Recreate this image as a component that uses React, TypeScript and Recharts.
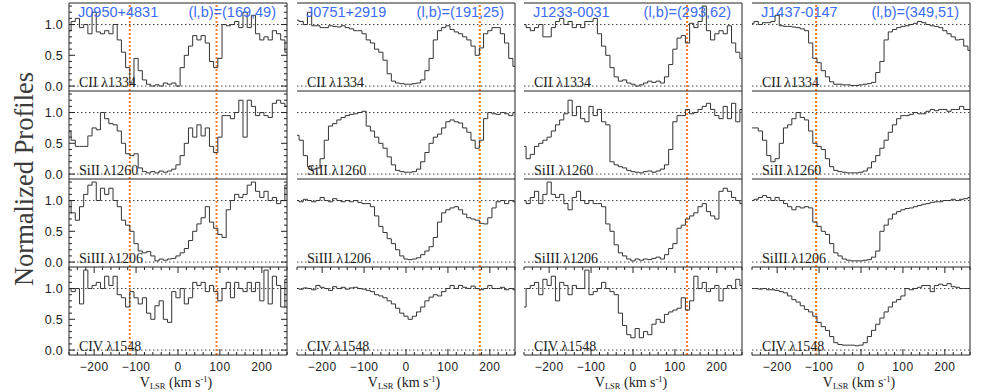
import { LineChart, Line, XAxis, YAxis, ReferenceLine } from 'recharts';

// velocity bins (km/s)
const velocity = [
  -260, -250, -240, -230, -220, -210, -200, -190, -180, -170, -160, -150, -140, -130, -120, -110, -100, -90, -80, -70,
  -60, -50, -40, -30, -20, -10, 0, 10, 20, 30, 40, 50, 60, 70, 80, 90, 100, 110, 120, 130, 140, 150, 160, 170, 180,
  190, 200, 210, 220, 230, 240, 250, 260,
];

const sightlines = ['J0950+4831', 'J0751+2919', 'J1233-0031', 'J1437-0147'];
const galactic = ['(l,b)=(169,49)', '(l,b)=(191,25)', '(l,b)=(293,62)', '(l,b)=(349,51)'];
const ions = ['CII λ1334', 'SiII λ1260', 'SiIII λ1206', 'CIV λ1548'];
const markers = [[-115, 92], [176], [129], [-107]];

const xMajor = [-200, -100, 0, 100, 200];
const xTicks = [-260, -240, -220, -200, -180, -160, -140, -120, -100, -80, -60, -40, -20, 0, 20, 40, 60, 80, 100, 120, 140, 160, 180, 200, 220, 240, 260];
const yMajor = [0, 0.5, 1];
const yTicks = [0, 0.1, 0.2, 0.3, 0.4, 0.5, 0.6, 0.7, 0.8, 0.9, 1, 1.1, 1.2, 1.3];

// J0950+4831
const j0950CII = [0.9, 1.05, 1.1, 0.95, 1.0, 0.85, 1.2, 0.88, 0.85, 0.9, 0.85, 1.0, 0.75, 0.55, 0.3, 0.05, 0.45, 0.25, 0.1, 0.03, 0.0, 0.02, 0.0, 0.05, 0.03, 0.05, 0.0, 0.3, 0.5, 0.65, 0.82, 0.75, 0.82, 0.7, 0.4, 0.3, 0.45, 1.0, 0.98, 1.0, 1.05, 0.95, 1.2, 0.95, 1.15, 0.85, 0.75, 0.8, 0.75, 0.9, 0.85, 0.75, 0.55];
const j0950SiII = [0.69, 0.55, 0.45, 0.45, 0.45, 0.62, 0.75, 0.72, 1.0, 0.9, 0.82, 0.8, 0.7, 0.5, 0.33, 0.3, 0.33, 0.1, 0.04, 0.02, 0.04, 0.02, 0.05, 0.03, 0.05, 0.08, 0.15, 0.3, 0.5, 0.75, 0.6, 0.8, 0.62, 0.75, 0.45, 0.35, 0.6, 0.95, 0.95, 0.9, 1.0, 1.2, 0.6, 1.2, 1.1, 0.95, 1.0, 0.95, 0.92, 1.15, 1.2, 1.15, 1.1];
const j0950SiIII = [1.0, 0.8, 0.68, 0.9, 1.1, 1.25, 1.3, 1.0, 1.2, 1.1, 1.2, 1.0, 0.9, 0.68, 0.6, 0.5, 0.3, 0.18, 0.15, 0.17, 0.1, 0.02, 0.05, 0.03, 0.05, 0.06, 0.1, 0.15, 0.22, 0.35, 0.5, 0.62, 0.72, 0.9, 0.65, 0.55, 0.45, 0.4, 0.85, 1.0, 1.1, 1.05, 1.1, 1.25, 1.3, 1.15, 1.05, 1.15, 1.0, 1.05, 0.95, 1.0, 1.25];
const j0950CIV = [1.0, 0.95, 1.0, 0.75, 1.3, 1.0, 1.05, 1.1, 1.0, 1.2, 1.05, 1.2, 0.9, 0.85, 0.7, 0.95, 0.85, 0.75, 0.85, 0.6, 0.5, 0.72, 0.8, 0.5, 0.45, 0.95, 0.85, 1.0, 0.75, 0.85, 1.1, 1.05, 1.1, 0.95, 1.05, 0.95, 0.8, 1.0, 1.1, 0.85, 1.1, 1.0, 0.95, 1.1, 0.95, 1.1, 0.8, 1.3, 0.75, 1.2, 1.05, 0.7, 1.15];

// J0751+2919
const j0751CII = [1.07, 1.05, 1.0, 1.2, 0.98, 0.98, 0.95, 0.95, 0.98, 0.97, 0.96, 0.98, 0.95, 0.93, 0.9, 0.9, 0.85, 0.75, 0.7, 0.6, 0.55, 0.42, 0.2, 0.08, 0.05, 0.04, 0.03, 0.03, 0.04, 0.05, 0.1, 0.25, 0.45, 0.75, 0.9, 0.95, 0.98, 0.92, 0.88, 0.85, 0.8, 0.75, 0.65, 0.5, 0.62, 0.85, 0.9, 0.95, 0.95, 0.85, 0.7, 0.45, 0.32];
const j0751SiII = [0.63, 0.55, 0.3, 0.12, 0.08, 0.1, 0.25, 0.55, 0.78, 0.82, 0.88, 0.92, 0.95, 0.97, 0.98, 1.0, 1.02, 0.78, 0.7, 0.6, 0.5, 0.42, 0.28, 0.15, 0.06, 0.04, 0.03, 0.03, 0.04, 0.08, 0.2, 0.35, 0.5, 0.6, 0.65, 0.75, 0.85, 0.88, 0.85, 0.83, 0.75, 0.68, 0.55, 0.42, 0.55, 0.9, 1.0, 0.98, 0.97, 1.0, 0.98, 0.95, 1.0];
const j0751SiIII = [1.0, 0.98, 1.02, 1.0, 0.98, 1.0, 1.05, 1.0, 0.98, 1.03, 1.0, 0.98, 1.0, 0.98, 1.0, 0.97, 0.95, 0.95, 0.9, 0.75, 0.58, 0.48, 0.38, 0.3, 0.2, 0.1, 0.05, 0.04, 0.05, 0.07, 0.12, 0.18, 0.25, 0.4, 0.65, 0.8, 0.85, 0.88, 0.9, 0.85, 0.78, 0.72, 0.7, 0.68, 0.63, 0.62, 0.72, 0.88, 0.98, 1.0, 0.95, 1.0, 0.98];
const j0751CIV = [1.0, 0.99, 1.01, 1.0, 0.98, 1.05, 1.02, 1.0, 0.97, 1.03, 1.0, 1.02, 0.99, 1.01, 1.02, 1.0, 0.99, 0.97, 0.95, 0.9, 0.88, 0.85, 0.8, 0.75, 0.68, 0.6, 0.55, 0.5, 0.55, 0.62, 0.7, 0.8, 0.86, 0.9, 0.88, 0.95, 1.0, 1.05, 1.0, 1.05, 1.02, 1.0, 1.04, 1.0, 0.98, 1.0, 1.05, 1.0, 1.0, 1.02, 0.98, 1.0, 0.98];

// J1233-0031
const j1233CII = [1.0, 0.95, 0.9, 0.95, 1.0, 0.8, 0.8, 0.95, 1.05, 1.1, 1.0, 1.05, 0.95, 1.0, 0.95, 1.05, 1.05, 1.1, 0.85, 0.65, 0.5, 0.3, 0.15, 0.08, 0.1, 0.05, 0.03, 0.0, 0.02, 0.05, 0.08, 0.06, 0.08, 0.05, 0.15, 0.35, 0.6, 0.78, 0.82, 0.7, 1.02, 0.95, 1.05, 1.3, 0.9, 0.75, 0.85, 0.9, 0.85, 0.98, 0.7, 0.55, 0.45];
const j1233SiII = [0.45, 0.25, 0.32, 0.45, 0.5, 0.55, 0.6, 0.7, 0.8, 0.88, 0.98, 1.2, 0.95, 1.1, 0.9, 0.85, 1.1, 0.95, 1.05, 0.85, 0.8, 0.2, 0.15, 0.12, 0.1, 0.06, 0.04, 0.03, 0.02, 0.04, 0.05, 0.03, 0.05, 0.08, 0.15, 0.4, 0.85, 0.95, 0.95, 1.05, 0.98, 1.0, 1.05, 1.1, 1.15, 1.05, 0.95, 0.9, 1.1, 0.9, 1.15, 0.85, 1.05];
const j1233SiIII = [1.0, 0.95, 1.05, 1.15, 0.95, 1.1, 1.3, 1.1, 1.05, 1.1, 0.95, 0.85, 1.05, 1.15, 1.0, 0.95, 1.0, 0.95, 0.95, 0.9, 0.62, 0.5, 0.28, 0.15, 0.1, 0.05, 0.02, 0.05, 0.03, 0.05, 0.04, 0.06, 0.08, 0.05, 0.12, 0.22, 0.3, 0.55, 0.6, 0.7, 0.75, 0.8, 0.9, 0.95, 0.82, 0.75, 0.7, 1.15, 1.2, 1.15, 1.05, 1.0, 0.95];
const j1233CIV = [0.7, 1.0, 1.05, 1.1, 0.9, 1.15, 1.05, 1.2, 0.8, 1.1, 1.05, 0.9, 1.05, 1.0, 1.0, 1.3, 0.9, 0.95, 1.0, 1.1, 1.0, 0.95, 0.9, 0.6, 0.4, 0.25, 0.2, 0.35, 0.2, 0.3, 0.25, 0.42, 0.5, 0.45, 0.58, 0.62, 0.65, 0.68, 0.85, 0.65, 0.8, 1.2, 1.0, 1.1, 0.95, 1.0, 1.05, 0.8, 1.0, 1.05, 1.0, 1.15, 1.05];

// J1437-0147
const j1437CII = [1.02, 1.05, 1.0, 1.03, 1.03, 1.05, 1.15, 0.98, 0.97, 0.97, 0.96, 0.95, 0.93, 0.9, 0.7, 0.45, 0.38, 0.25, 0.15, 0.07, 0.03, 0.03, 0.02, 0.02, 0.01, 0.01, 0.02, 0.03, 0.04, 0.06, 0.22, 0.4, 0.75, 0.88, 0.92, 0.95, 0.97, 0.98, 1.0, 1.02, 1.05, 1.03, 1.0, 0.98, 0.97, 0.95, 0.9, 0.85, 0.8, 0.75, 0.76, 0.65, 0.58];
const j1437SiII = [0.75, 0.75, 0.7, 0.55, 0.3, 0.2, 0.25, 0.5, 0.75, 0.8, 0.9, 1.0, 0.92, 0.88, 0.7, 0.5, 0.45, 0.4, 0.25, 0.12, 0.06, 0.04, 0.03, 0.02, 0.02, 0.02, 0.03, 0.05, 0.1, 0.2, 0.3, 0.42, 0.55, 0.68, 0.8, 0.9, 0.95, 0.95, 0.97, 1.0, 0.98, 0.98, 1.02, 1.05, 1.03, 1.05, 1.05, 1.02, 1.05, 1.05, 1.1, 1.05, 1.05];
const j1437SiIII = [1.0, 1.02, 1.05, 1.08, 1.05, 1.0, 1.05, 1.0, 0.95, 0.9, 0.85, 0.9, 0.88, 0.9, 0.88, 0.65, 0.58, 0.5, 0.45, 0.3, 0.15, 0.1, 0.05, 0.03, 0.02, 0.02, 0.02, 0.03, 0.04, 0.08, 0.18, 0.5, 0.6, 0.7, 0.78, 0.82, 0.85, 0.87, 0.88, 0.9, 0.92, 0.94, 0.95, 0.97, 0.98, 0.98, 1.0, 1.0, 1.02, 1.0, 1.02, 1.03, 1.05];
const j1437CIV = [1.0, 1.0, 0.99, 1.0, 0.98, 0.98, 0.97, 0.95, 0.93, 0.88, 0.82, 0.78, 0.72, 0.66, 0.62, 0.55, 0.45, 0.38, 0.32, 0.22, 0.12, 0.09, 0.08, 0.08, 0.08, 0.07, 0.08, 0.12, 0.22, 0.32, 0.42, 0.52, 0.62, 0.7, 0.78, 0.82, 0.88, 1.0, 0.98, 1.0, 1.02, 1.05, 1.05, 0.95, 1.05, 1.07, 1.05, 1.08, 1.03, 1.02, 1.0, 1.0, 1.0];

// grid[column][row]
const spectra = [
  [j0950CII, j0950SiII, j0950SiIII, j0950CIV],
  [j0751CII, j0751SiII, j0751SiIII, j0751CIV],
  [j1233CII, j1233SiII, j1233SiIII, j1233CIV],
  [j1437CII, j1437SiII, j1437SiIII, j1437CIV],
];

const PW = 218;
const PH = 88;
const colLeft = [69, 297, 524, 752];
const rowTop = [3, 91, 179, 267];
const YW = 44;
const XH = 36;
const PAD = 6;
const Y_MIN = -0.08;
const Y_MAX = 1.35;
const BLUE = '#3a6cf4';
const ORANGE = '#ff7a22';
const sans = '"Liberation Sans", Arial, sans-serif';
const serif = '"Liberation Serif", "Times New Roman", serif';

const fmtX = (v: number) => (v < 0 ? '\u2212' + Math.abs(v) : String(v));

const XTick = (props: any) => {
  const { x, y, payload, showLabel } = props;
  const v = payload.value;
  const major = xMajor.includes(v);
  const len = major ? 6 : 3;
  return (
    <g>
      <line x1={x} x2={x} y1={y} y2={y - len} stroke="#222" />
      <line x1={x} x2={x} y1={y - PH} y2={y - PH + len} stroke="#222" />
      {major && showLabel && (
        <text x={x} y={y + 16} textAnchor="middle" fontFamily={sans} fontSize={12} letterSpacing={0.4} fill="#222">
          {fmtX(v)}
        </text>
      )}
    </g>
  );
};

const YTick = (props: any) => {
  const { x, y, payload, showLabel } = props;
  const v = payload.value;
  const major = yMajor.includes(v);
  const len = major ? 6 : 3;
  return (
    <g>
      <line x1={x} x2={x + len} y1={y} y2={y} stroke="#222" />
      <line x1={x + PW} x2={x + PW - len} y1={y} y2={y} stroke="#222" />
      {major && showLabel && (
        <text x={x - 6} y={y + 4.5} textAnchor="end" fontFamily={sans} fontSize={12.5} letterSpacing={0.3} fill="#222">
          {v.toFixed(1)}
        </text>
      )}
    </g>
  );
};

const Panel = ({ c, r }: { c: number; r: number }) => {
  const yw = c === 0 ? YW : 0;
  const xh = r === 3 ? XH : 0;
  const data = velocity.map((v, i) => ({ v, f: spectra[c][r][i] }));
  return (
    <div style={{ position: 'absolute', left: colLeft[c] - 1 - yw, top: rowTop[r] - PAD }}>
      <LineChart
        width={PW + 2 + yw}
        height={PH + 2 * PAD + xh}
        data={data}
        margin={{ top: PAD, right: 1, bottom: PAD, left: 1 }}
      >
        <XAxis
          dataKey="v"
          type="number"
          domain={[-260, 260]}
          allowDataOverflow
          ticks={xTicks}
          interval={0}
          height={xh}
          tickSize={0}
          tickMargin={0}
          tickLine={false}
          axisLine={{ stroke: '#222' }}
          tick={(p: any) => <XTick {...p} showLabel={r === 3} />}
        />
        <YAxis
          type="number"
          domain={[Y_MIN, Y_MAX]}
          allowDataOverflow
          ticks={yTicks}
          interval={0}
          width={yw}
          tickSize={0}
          tickMargin={0}
          tickLine={false}
          axisLine={{ stroke: '#222' }}
          tick={(p: any) => <YTick {...p} showLabel={c === 0} />}
        />
        <ReferenceLine y={Y_MAX} stroke="#222" />
        <ReferenceLine x={260} stroke="#222" />
        <ReferenceLine y={0} stroke="#444" strokeDasharray="1.5 2.5" />
        <ReferenceLine y={1} stroke="#444" strokeDasharray="1.5 2.5" />
        {markers[c].map((m) => (
          <ReferenceLine key={m} x={m} stroke={ORANGE} strokeWidth={2} strokeDasharray="2 2" />
        ))}
        <Line
          type="step"
          dataKey="f"
          stroke="#333"
          strokeWidth={1}
          dot={false}
          isAnimationActive={false}
        />
      </LineChart>
    </div>
  );
};

export default function App() {
  const cols = [0, 1, 2, 3];
  const rows = [0, 1, 2, 3];
  return (
    <div style={{ position: 'absolute', left: 0, top: 0, width: 981, height: 392, background: '#fff' }}>
      {cols.map((c) => rows.map((r) => <Panel key={`${c}-${r}`} c={c} r={r} />))}
      <svg width={981} height={392} style={{ position: 'absolute', left: 0, top: 0, pointerEvents: 'none' }}>
        {cols.map((c) => (
          <g key={c}>
            <text x={colLeft[c] + 9} y={17} fontFamily={sans} fontSize={14.5} fill={BLUE}>
              {sightlines[c]}
            </text>
            <text x={colLeft[c] + PW - 11} y={17} textAnchor="end" fontFamily={sans} fontSize={14.5} fill={BLUE}>
              {galactic[c]}
            </text>
            {rows.map((r) => (
              <text key={r} x={colLeft[c] + 10} y={rowTop[r] + PH - 4} fontFamily={serif} fontSize={14} fill="#222">
                {ions[r]}
              </text>
            ))}
            <text x={colLeft[c] + PW / 2 - 2} y={387} textAnchor="middle" fontFamily={serif} fontSize={14} fill="#222">
              V<tspan fontSize={8.5} dy={2}>LSR</tspan>
              <tspan dy={-2}> (km s</tspan>
              <tspan fontSize={8.5} dy={-5}>-1</tspan>
              <tspan dy={5}>)</tspan>
            </text>
          </g>
        ))}
        <text
          x={0}
          y={0}
          transform="translate(33,179) rotate(-90)"
          textAnchor="middle"
          fontFamily={serif}
          fontSize={26.5}
          fill="#3a3a3a"
        >
          Normalized Profiles
        </text>
      </svg>
    </div>
  );
}
